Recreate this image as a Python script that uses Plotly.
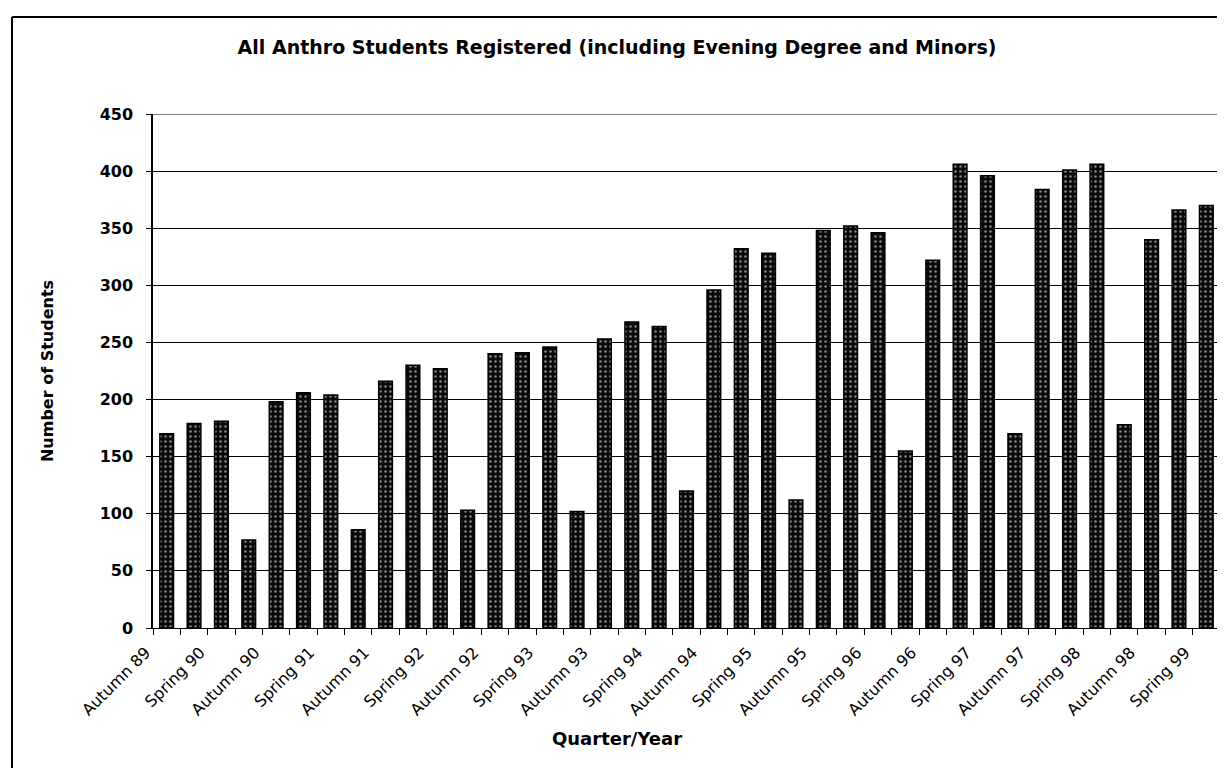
import plotly.graph_objects as go

# Autumn 89 .. Spring 99 (39 quarters)
quarter_labels = [
    "Autumn 89", "Winter 90", "Spring 90", "Summer 90",
    "Autumn 90", "Winter 91", "Spring 91", "Summer 91",
    "Autumn 91", "Winter 92", "Spring 92", "Summer 92",
    "Autumn 92", "Winter 93", "Spring 93", "Summer 93",
    "Autumn 93", "Winter 94", "Spring 94", "Summer 94",
    "Autumn 94", "Winter 95", "Spring 95", "Summer 95",
    "Autumn 95", "Winter 96", "Spring 96", "Summer 96",
    "Autumn 96", "Winter 97", "Spring 97", "Summer 97",
    "Autumn 97", "Winter 98", "Spring 98", "Summer 98",
    "Autumn 98", "Winter 99", "Spring 99",
]
students = [
    170, 179, 181, 77,
    198, 206, 204, 86,
    216, 230, 227, 103,
    240, 241, 246, 102,
    253, 268, 264, 120,
    296, 332, 328, 112,
    348, 352, 346, 155,
    322, 406, 396, 170,
    384, 401, 406, 178,
    340, 366, 370,
]
y_ticks = [0, 50, 100, 150, 200, 250, 300, 350, 400, 450]

x_pos = list(range(len(quarter_labels)))
shown_idx = [i for i, q in enumerate(quarter_labels) if q.startswith(("Autumn", "Spring"))]
shown_text = [quarter_labels[i] for i in shown_idx]

FONT = "DejaVu Sans"
W, H = 1217, 760
L, T, PW, PH = 145, 106, 1067, 514

fig = go.Figure()
fig.add_trace(go.Bar(
    x=x_pos,
    y=students,
    width=0.5,
    marker=dict(
        color="black",
        line=dict(color="black", width=1.5),
        pattern=dict(shape=".", fgcolor="white", bgcolor="#0a0a0a", size=5, solidity=0.2),
    ),
    hovertext=quarter_labels,
    showlegend=False,
))

fig.update_layout(
    width=W, height=H,
    margin=dict(l=L, r=W - L - PW, t=T, b=H - T - PH),
    paper_bgcolor="white", plot_bgcolor="white",
    title=dict(
        text="<b>All Anthro Students Registered (including Evening Degree and Minors)</b>",
        x=609 / W, xanchor="center", y=1 - 39 / H, yanchor="middle",
        font=dict(family=FONT, size=19, color="black"),
    ),
    font=dict(family=FONT, color="black"),
    xaxis=dict(
        range=[-0.5, len(quarter_labels) - 0.5],
        tickmode="array",
        tickvals=shown_idx,
        ticktext=shown_text,
        tickangle=-45,
        ticks="",
        ticklabelshift=-21,
        ticklabelstandoff=8,
        tickfont=dict(family=FONT, size=16, color="black"),
        showline=True, linecolor="black", linewidth=1,
        showgrid=False, zeroline=False,
        minor=dict(tickmode="linear", tick0=-0.5, dtick=1, ticks="outside",
                   ticklen=6, tickcolor="black", tickwidth=1, showgrid=False),
    ),
    yaxis=dict(
        range=[0, 450],
        tickmode="array", tickvals=y_ticks,
        ticks="outside", ticklen=5, tickcolor="black",
        ticklabelstandoff=10,
        tickfont=dict(family=FONT, size=16, color="black", weight="bold"),
        showline=True, linecolor="black", linewidth=1.5,
        showgrid=True, gridcolor="black", gridwidth=1,
        zeroline=False,
        title=dict(text="<b>Number of Students</b>", font=dict(family=FONT, size=16, color="black"),
                   standoff=42),
    ),
    annotations=[dict(
        text="<b>Quarter/Year</b>", xref="paper", yref="paper",
        x=(609 - L) / PW, y=(T + PH - 730) / PH, xanchor="center", yanchor="middle",
        showarrow=False, font=dict(family=FONT, size=18, color="black"),
    )],
)

# top gridline at the range edge
fig.add_shape(type="line", xref="paper", yref="y", x0=0, x1=1,
              y0=y_ticks[-1], y1=y_ticks[-1], line=dict(color="black", width=1))

# outer chart frame
fx = (4 - L) / PW
fy = (T + PH - 9) / PH
fig.add_shape(type="line", xref="paper", yref="paper",
              x0=fx, x1=1.2, y0=fy, y1=fy, line=dict(color="black", width=2))
fig.add_shape(type="line", xref="paper", yref="paper",
              x0=fx, x1=fx, y0=fy, y1=-0.6, line=dict(color="black", width=2))

fig.write_html("out.html")
